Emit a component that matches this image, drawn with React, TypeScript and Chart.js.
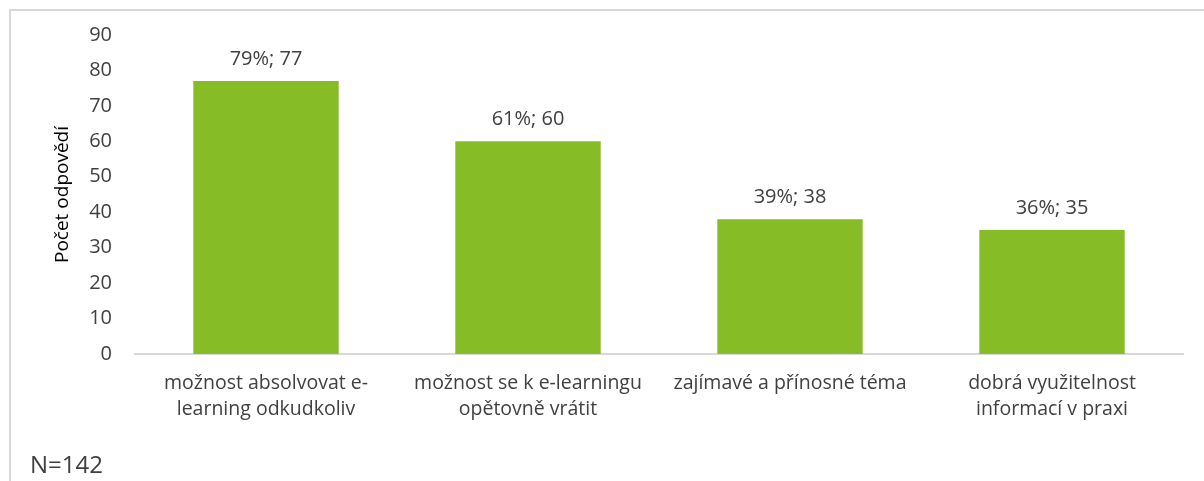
import React, { useEffect, useRef } from "react";
import { Chart, registerables } from "chart.js";

Chart.register(...registerables);

const categories: (string | string[])[] = [
  ["možnost absolvovat e-", "learning odkudkoliv"],
  ["možnost se k e-learningu", "opětovně vrátit"],
  "zajímavé a přínosné téma",
  ["dobrá využitelnost", "informací v praxi"],
];
const counts: number[] = [77, 60, 38, 35];
const percents: number[] = [79, 61, 39, 36];
const yTitle = "Počet odpovědí";
const footnote = "N=142";

const FONT = "'Open Sans', sans-serif";
const TEXT = "#404040";

export default function App() {
  const ref = useRef<HTMLCanvasElement | null>(null);

  useEffect(() => {
    if (!ref.current) return;
    const decor = {
      id: "decor",
      beforeDraw(chart: any) {
        const ctx = chart.ctx;
        ctx.save();
        ctx.fillStyle = "#d9d9d9";
        ctx.fillRect(9, 9, chart.width - 9, 2);
        ctx.fillRect(9, 9, 2, chart.height - 9);
        ctx.restore();
      },
      afterDatasetsDraw(chart: any) {
        const ctx = chart.ctx;
        const meta = chart.getDatasetMeta(0);
        ctx.save();
        ctx.fillStyle = TEXT;
        ctx.font = `20px ${FONT}`;
        ctx.textAlign = "center";
        ctx.textBaseline = "middle";
        meta.data.forEach((el: any, i: number) => {
          ctx.fillText(`${percents[i]}%; ${counts[i]}`, el.x, el.y - 22);
        });
        ctx.textAlign = "left";
        ctx.font = `24px ${FONT}`;
        ctx.fillText(footnote, 30, 466);
        ctx.restore();
      },
    };

    const chart = new Chart(ref.current, {
      type: "bar",
      data: {
        labels: categories,
        datasets: [
          {
            data: counts,
            backgroundColor: "#86bc25",
            borderWidth: 0,
            categoryPercentage: 1,
            barPercentage: 0.555,
          },
        ],
      },
      plugins: [decor],
      options: {
        responsive: false,
        animation: false,
        layout: { padding: { left: 44, right: 21, top: 32, bottom: 0 } },
        plugins: {
          legend: { display: false },
          tooltip: { enabled: false },
        },
        scales: {
          x: {
            grid: { display: false, drawTicks: false },
            border: { display: true, color: "#d9d9d9", width: 2 },
            ticks: {
              color: TEXT,
              font: { family: FONT, size: 19.5, lineHeight: 1.3 },
              padding: 17,
              maxRotation: 0,
              autoSkip: false,
            },
            afterFit(scale: any) {
              scale.height = 127;
            },
          },
          y: {
            min: 0,
            max: 90,
            grid: { display: false, drawTicks: false },
            border: { display: false },
            ticks: {
              stepSize: 10,
              color: TEXT,
              font: { family: FONT, size: 20 },
              padding: 23,
            },
            title: {
              display: true,
              text: yTitle,
              color: "#000000",
              font: { family: FONT, size: 19 },
              padding: { top: 7, bottom: 0 },
            },
            afterFit(scale: any) {
              scale.width = 91;
            },
          },
        },
      },
    });
    return () => chart.destroy();
  }, []);

  return (
    <canvas
      ref={ref}
      width={1204}
      height={481}
      style={{ position: "absolute", left: 0, top: 0, background: "#ffffff" }}
    />
  );
}
